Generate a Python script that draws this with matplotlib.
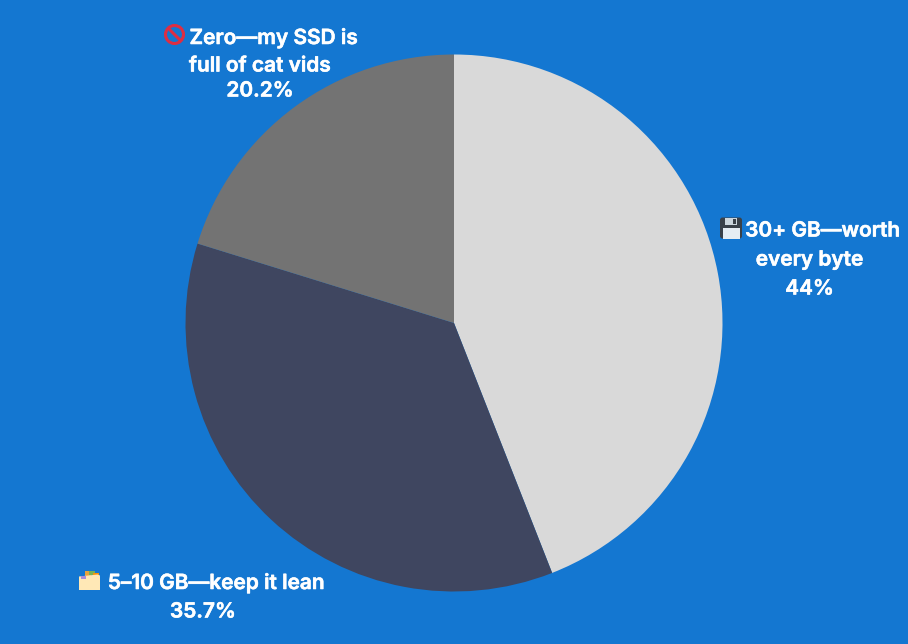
import matplotlib
matplotlib.use("Agg")
import matplotlib.pyplot as plt
import matplotlib.patheffects as pe
from matplotlib.patches import Circle, FancyBboxPatch, Rectangle, Polygon
from matplotlib.lines import Line2D

# Survey results
shares = [44, 35.7, 20.2]
slice_colors = ["#D9D9D9", "#3F4660", "#737373"]
label_lines = [
    ["30+ GB—worth", "every byte", "44%"],
    ["5–10 GB—keep it lean", "35.7%"],
    ["Zero—my SSD is", "full of cat vids", "20.2%"],
]
line_anchors = [
    [(822.5, 230.5), (809.5, 259.5), (809.5, 288.5)],
    [(216, 582.5), (203, 611.5)],
    [(273.5, 37.5), (260, 65.5), (260, 90.5)],
]

BG = "#1477D1"
W, H = 908, 644
fig = plt.figure(figsize=(W / 100, H / 100), dpi=100, facecolor=BG)

# Pie axes: a square centred on the circle
cx, cy, r = 454, 323, 268.5
ax = fig.add_axes([(cx - r) / W, 1 - (cy + r) / H, 2 * r / W, 2 * r / H])
ax.pie(shares, colors=slice_colors, startangle=90, counterclock=False, radius=1,
       wedgeprops={"linewidth": 0})
ax.set_xlim(-1, 1)
ax.set_ylim(-1, 1)
ax.set_aspect("equal")
ax.axis("off")

# Overlay in pixel units for the captions and their small icons
ov = fig.add_axes([0, 0, 1, 1], facecolor="none")
ov.set_xlim(0, W)
ov.set_ylim(H, 0)
ov.axis("off")

# A thin white outline gives the captions their semibold weight
heavier = [pe.withStroke(linewidth=0.4, foreground="white")]
for lines, anchors in zip(label_lines, line_anchors):
    for s, (x, y) in zip(lines, anchors):
        ov.text(x, y, s, ha="center", va="center", color="white",
                fontsize=15, fontfamily="Inter", fontweight="semibold",
                path_effects=heavier)


def no_entry_icon(x, y):
    ov.add_patch(Circle((x, y), 9, facecolor="none", edgecolor="#DD2E44", linewidth=2.2))
    ov.add_line(Line2D([x - 6, x + 6], [y - 6, y + 6], color="#DD2E44", linewidth=2.2))


def floppy_icon(x, y):
    ov.add_patch(FancyBboxPatch((x - 11, y - 10.5), 22, 21, boxstyle="round,pad=0,rounding_size=2.5",
                                facecolor="#3A4149", edgecolor="none"))
    ov.add_patch(Rectangle((x - 6, y - 10.5), 12, 7.5, facecolor="#CCD6DD", edgecolor="none"))
    ov.add_patch(Rectangle((x + 1.5, y - 9.5), 3, 5.5, facecolor="#3A4149", edgecolor="none"))
    ov.add_patch(Rectangle((x - 8.5, y + 0), 17, 10.5, facecolor="#E6EDF3", edgecolor="none"))


def divider_icon(x, y):
    ov.add_patch(Rectangle((x - 5, y - 9.5), 6, 5, facecolor="#E8A33D", edgecolor="none"))
    ov.add_patch(Rectangle((x - 1, y - 9.5), 6, 4, facecolor="#77B255", edgecolor="none"))
    ov.add_patch(Rectangle((x + 3, y - 8), 6, 4, facecolor="#F4900C", edgecolor="none"))
    ov.add_patch(Polygon([(x - 10.5, y - 4), (x + 8, y - 6), (x + 10.5, y - 5), (x + 10.5, y + 9.5),
                          (x - 10.5, y + 9.5)], facecolor="#FFE8B6", edgecolor="none"))
    ov.add_patch(Rectangle((x - 9, y - 5), 5.5, 3.5, facecolor="#AA8DD8", edgecolor="none"))


floppy_icon(731, 228)
divider_icon(89.5, 580.5)
no_entry_icon(174.5, 34.5)

fig.savefig("out.png", dpi=100, facecolor=BG)
